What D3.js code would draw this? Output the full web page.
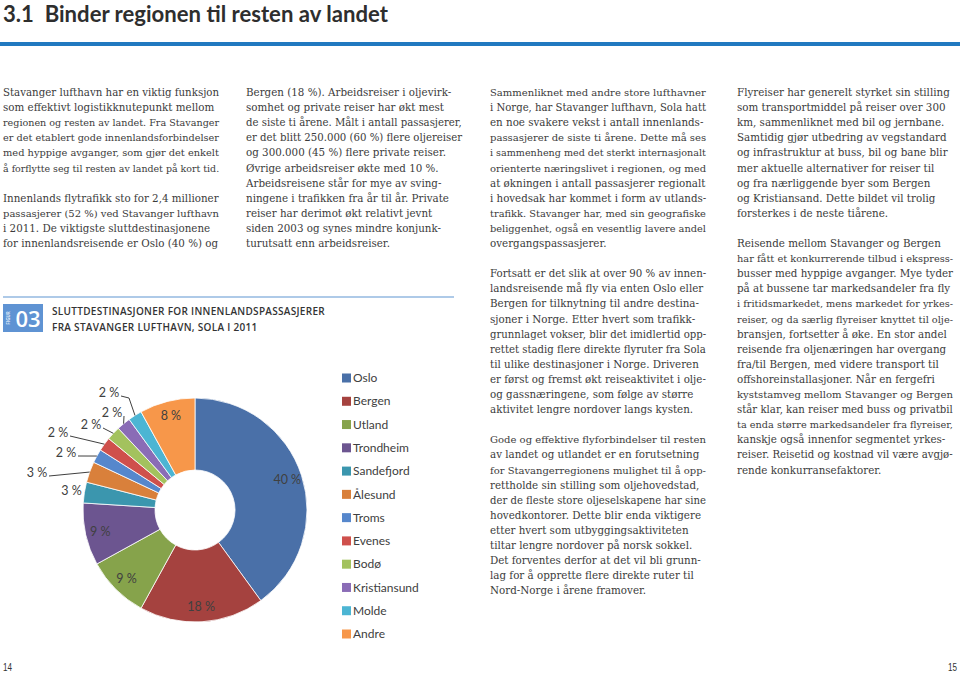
<!DOCTYPE html>
<html><head><meta charset="utf-8">
<script src="https://cdn.jsdelivr.net/npm/d3@7"></script>
<style>
html,body{margin:0;padding:0;background:#fff;}
svg{display:block;}
</style></head>
<body>
<svg id="page" width="960" height="673"></svg>
<script>
// ---------- DATA ----------
const categories = ["Oslo","Bergen","Utland","Trondheim","Sandefjord","Ålesund","Troms","Evenes","Bodø","Kristiansund","Molde","Andre"];
const shares = [40,18,9,9,3,3,2,2,2,2,2,8];
const sliceColors = ["#4a70a8","#a5423f","#86a34b","#6c5590","#3b96ae","#d9803b","#5687cc","#cf504c","#a3c25e","#8a6cb6","#4cb5d3","#f7974a"];

const pageTitle = "3.1  Binder regionen til resten av landet";
const figNumber = "03";
const figCaption = ["SLUTTDESTINASJONER FOR INNENLANDSPASSASJERER","FRA STAVANGER LUFTHAVN, SOLA I 2011"];
const pageNumbers = ["14","15"];

const col1 = ["Stavanger lufthavn har en viktig funksjon","som effektivt logistikknutepunkt mellom","regionen og resten av landet. Fra Stavanger","er det etablert gode innenlandsforbindelser","med hyppige avganger, som gjør det enkelt","å forflytte seg til resten av landet på kort tid.","",
"Innenlands flytrafikk sto for 2,4 millioner","passasjerer (52 %) ved Stavanger lufthavn","i 2011. De viktigste sluttdestinasjonene","for innenlandsreisende er Oslo (40 %) og"];
const col2 = ["Bergen (18 %). Arbeidsreiser i oljevirk-","somhet og private reiser har økt mest","de siste ti årene. Målt i antall passasjerer,","er det blitt 250.000 (60 %) flere oljereiser","og 300.000 (45 %) flere private reiser.","Øvrige arbeidsreiser økte med 10 %.","Arbeidsreisene står for mye av sving-","ningene i trafikken fra år til år. Private","reiser har derimot økt relativt jevnt","siden 2003 og synes mindre konjunk-","turutsatt enn arbeidsreiser."];
const col3 = ["Sammenliknet med andre store lufthavner","i Norge, har Stavanger lufthavn, Sola hatt","en noe svakere vekst i antall innenlands-","passasjerer de siste ti årene. Dette må ses","i sammenheng med det sterkt internasjonalt","orienterte næringslivet i regionen, og med","at økningen i antall passasjerer regionalt","i hovedsak har kommet i form av utlands-","trafikk. Stavanger har, med sin geografiske","beliggenhet, også en vesentlig lavere andel","overgangspassasjerer.","",
"Fortsatt er det slik at over 90 % av innen-","landsreisende må fly via enten Oslo eller","Bergen for tilknytning til andre destina-","sjoner i Norge. Etter hvert som trafikk-","grunnlaget vokser, blir det imidlertid opp-","rettet stadig flere direkte flyruter fra Sola","til ulike destinasjoner i Norge. Driveren","er først og fremst økt reiseaktivitet i olje-","og gassnæringene, som følge av større","aktivitet lengre nordover langs kysten.","",
"Gode og effektive flyforbindelser til resten","av landet og utlandet er en forutsetning","for Stavangerregionens mulighet til å opp-","rettholde sin stilling som oljehovedstad,","der de fleste store oljeselskapene har sine","hovedkontorer. Dette blir enda viktigere","etter hvert som utbyggingsaktiviteten","tiltar lengre nordover på norsk sokkel.","Det forventes derfor at det vil bli grunn-","lag for å opprette flere direkte ruter til","Nord-Norge i årene framover."];
const col4 = ["Flyreiser har generelt styrket sin stilling","som transportmiddel på reiser over 300","km, sammenliknet med bil og jernbane.","Samtidig gjør utbedring av vegstandard","og infrastruktur at buss, bil og bane blir","mer aktuelle alternativer for reiser til","og fra nærliggende byer som Bergen","og Kristiansand. Dette bildet vil trolig","forsterkes i de neste tiårene.","",
"Reisende mellom Stavanger og Bergen","har fått et konkurrerende tilbud i ekspress-","busser med hyppige avganger. Mye tyder","på at bussene tar markedsandeler fra fly","i fritidsmarkedet, mens markedet for yrkes-","reiser, og da særlig flyreiser knyttet til olje-","bransjen, fortsetter å øke. En stor andel","reisende fra oljenæringen har overgang","fra/til Bergen, med videre transport til","offshoreinstallasjoner. Når en fergefri","kyststamveg mellom Stavanger og Bergen","står klar, kan reiser med buss og privatbil","ta enda større markedsandeler fra flyreiser,","kanskje også innenfor segmentet yrkes-","reiser. Reisetid og kostnad vil være avgjø-","rende konkurransefaktorer."];

// ---------- LAYOUT ----------
const svg = d3.select("#page");
const textColor = "#3b3b3b";

// title (font size fitted to reference width) + top rule
const titleFont = "Lato, 'Open Sans', sans-serif";
const tProbe = svg.append("text").attr("font-family",titleFont).attr("font-weight",700).attr("font-size",20)
  .style("white-space","pre").text(pageTitle);
const tW = tProbe.node().getComputedTextLength(); tProbe.remove();
svg.append("text").attr("x",3).attr("y",22)
  .attr("font-family",titleFont).attr("font-weight",700)
  .attr("font-size",20*385/tW).attr("fill","#2e2e2e")
  .style("white-space","pre").text(pageTitle);
svg.append("rect").attr("x",0).attr("y",42).attr("width",960).attr("height",4).attr("fill","#2179c0");

// body text: fit font size to reference line width
const bodyFont = "'DejaVu Serif', 'Liberation Serif', serif";
const probe = svg.append("text").attr("font-family",bodyFont).attr("font-size",12).text(col1[0]);
const probeW = probe.node().getComputedTextLength();
probe.remove();
const bodySize = 12 * 218 / probeW;
const maxLineW = 216;

const columns = [{x:3,lines:col1},{x:246,lines:col2},{x:490,lines:col3},{x:737,lines:col4}];
const lineH = 15.1, firstBaseline = 96;
columns.forEach(c=>{
  const g = svg.append("g");
  g.selectAll("text").data(c.lines).join("text")
    .attr("x",c.x).attr("y",(d,i)=>firstBaseline + i*lineH)
    .attr("font-family",bodyFont).attr("font-size",bodySize).attr("fill",textColor)
    .text(d=>d)
    .each(function(){
      const w = this.getComputedTextLength();
      if(w > maxLineW){ d3.select(this).attr("font-size", bodySize*maxLineW/w); }
    });
});

// figure header
svg.append("line").attr("x1",3).attr("x2",454).attr("y1",297).attr("y2",297)
  .attr("stroke","#93b8e0").attr("stroke-width",1.5);
svg.append("rect").attr("x",3).attr("y",304).attr("width",40).attr("height",28).attr("fill","#5f93d3");
svg.append("text").attr("transform","translate(10,318) rotate(-90)").attr("text-anchor","middle")
  .attr("font-family","'Open Sans', sans-serif").attr("font-size",4.5).attr("font-weight",700)
  .attr("fill","#dfe9f7").text("FIGUR");
svg.append("text").attr("x",28).attr("y",327).attr("text-anchor","middle")
  .attr("font-family","'Open Sans', sans-serif").attr("font-weight",600).attr("font-size",22)
  .attr("fill","#fff").text(figNumber);
svg.selectAll("text.cap").data(figCaption).join("text").attr("class","cap")
  .attr("x",52).attr("y",(d,i)=>315 + i*16)
  .attr("font-family","'Open Sans', sans-serif").attr("font-weight",600).attr("font-size",10)
  .attr("letter-spacing",0.3).attr("fill","#333").text(d=>d);

// ---------- PIE ----------
const cx = 195, cy = 510, outerR = 112, innerR = 40;
const pie = d3.pie().sort(null).value(d=>d.v);
const arcs = pie(categories.map((c,i)=>({c, v:shares[i]})));
const arc = d3.arc().innerRadius(innerR).outerRadius(outerR);
const gPie = svg.append("g").attr("transform",`translate(${cx},${cy})`);
gPie.selectAll("path").data(arcs).join("path")
  .attr("d",arc).attr("fill",(d,i)=>sliceColors[i])
  .attr("stroke","#fff").attr("stroke-width",0.8);

const labelFont = "Lato, 'Open Sans', sans-serif";
const fmt = v => v + " %";
const labelArc = d3.arc().innerRadius(97).outerRadius(97);
const edgeArc = d3.arc().innerRadius(outerR).outerRadius(outerR);
// label placement per slice: inside, near (outside, no line), or leader-line offset from pie centre
const labelPlacement = [
  {mode:"in"},{mode:"in"},{mode:"in"},{mode:"in"},
  {mode:"near", r:125},
  {mode:"lead", dx:-158, dy:-37},
  {mode:"lead", dx:-129, dy:-57},
  {mode:"lead", dx:-137, dy:-77},
  {mode:"lead", dx:-104, dy:-85},
  {mode:"lead", dx:-83, dy:-97},
  {mode:"lead", dx:-86, dy:-117, elbow:true},
  {mode:"in"}
];
arcs.forEach((a,i)=>{
  const p = labelPlacement[i];
  let x,y;
  if(p.mode==="in"){ [x,y] = labelArc.centroid(a); }
  else if(p.mode==="near"){ [x,y] = d3.arc().innerRadius(p.r).outerRadius(p.r).centroid(a); }
  else {
    x = p.dx; y = p.dy;
    const [ex,ey] = edgeArc.centroid(a);
    const sx = x + 12, sy = y + 3;
    let pts = [[sx,sy]];
    if(p.elbow){ pts.push([ex-6, sy+2]); }
    pts.push([ex,ey]);
    gPie.append("path").attr("d",d3.line()(pts)).attr("fill","none")
      .attr("stroke","#404040").attr("stroke-width",1);
  }
  gPie.append("text").attr("x",x).attr("y",y).attr("dy","0.35em")
    .attr("text-anchor","middle").attr("font-family",labelFont).attr("font-size",12.5)
    .attr("fill","#404040").text(fmt(shares[i]));
});

// legend
const legendY = d3.scalePoint().domain(categories).range([378,634]);
const gLeg = svg.append("g");
categories.forEach((c,i)=>{
  gLeg.append("rect").attr("x",342).attr("y",legendY(c)-4.5).attr("width",9).attr("height",9).attr("fill",sliceColors[i]);
  gLeg.append("text").attr("x",353).attr("y",legendY(c)).attr("dy","0.35em")
    .attr("font-family",labelFont).attr("font-size",12).attr("fill","#404040").text(c);
});

// page numbers
svg.append("text").attr("x",3).attr("y",671).attr("font-family","'Liberation Sans', sans-serif")
  .attr("font-size",10).attr("fill","#333").attr("textLength",9).attr("lengthAdjust","spacingAndGlyphs").text(pageNumbers[0]);
svg.append("text").attr("x",948).attr("y",671).attr("font-family","'Liberation Sans', sans-serif")
  .attr("font-size",10).attr("fill","#333").attr("textLength",9).attr("lengthAdjust","spacingAndGlyphs").text(pageNumbers[1]);
</script>
</body></html>
